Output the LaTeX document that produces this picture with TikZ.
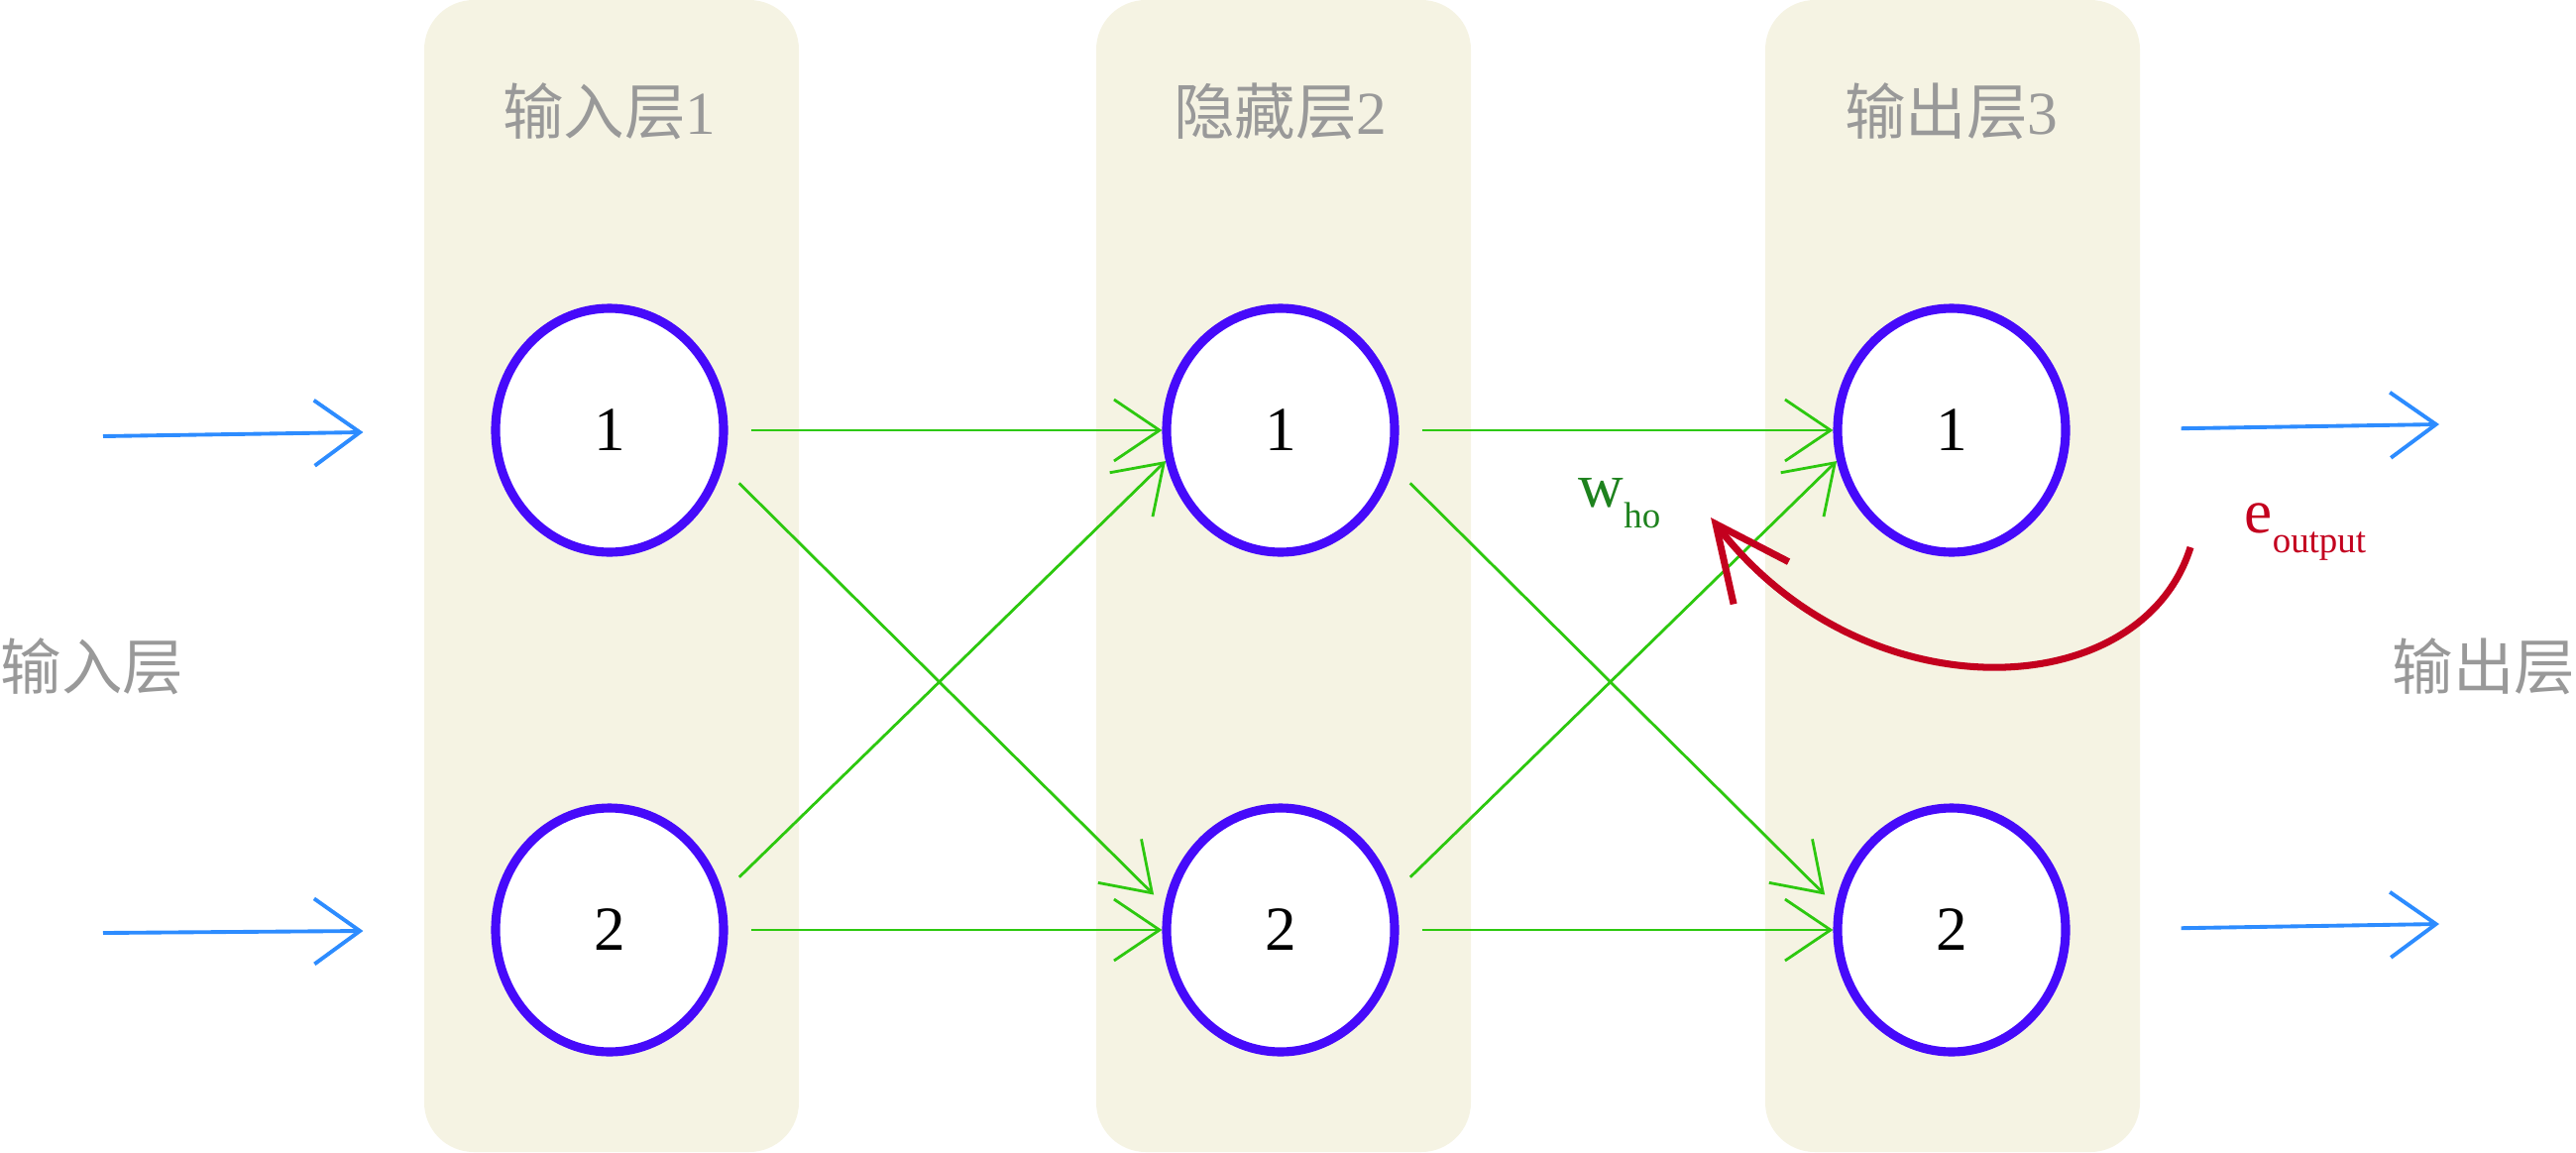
\documentclass[tikz,border=0pt]{standalone}
\usepackage{fontspec}
\setmainfont{Liberation Serif}
\newfontfamily\cjk{Noto Sans CJK SC}
\usepackage{xcolor}
\usetikzlibrary{arrows.meta,positioning,shapes.geometric}

\definecolor{layerbg}{RGB}{245,243,227}
\definecolor{labelgray}{RGB}{153,153,153}
\definecolor{neuronblue}{RGB}{70,10,250}
\definecolor{signalblue}{RGB}{45,140,255}
\definecolor{weightgreen}{RGB}{45,200,15}
\definecolor{wgreen}{RGB}{30,130,30}
\definecolor{errred}{RGB}{195,0,30}

\begin{document}
\begin{tikzpicture}[
  layer/.style={fill=layerbg, rounded corners=0.5cm, minimum width=3.78cm, minimum height=11.62cm, inner sep=0pt},
  neuron/.style={draw=neuronblue, ellipse, fill=white, line width=2.6pt, minimum width=2.3cm, minimum height=2.46cm, inner sep=0pt, font=\fontsize{18}{20}\selectfont},
  title/.style={text=labelgray, font=\fontsize{17.5}{20}\selectfont, inner sep=0pt},
  signal/.style={-{Straight Barb[length=4.6mm,width=6.6mm]}, signalblue, line width=1.1pt},
  weight/.style={-{Straight Barb[length=4.6mm,width=6.2mm]}, weightgreen, line width=0.8pt, shorten <=0.23cm},
  backprop/.style={-{Straight Barb[length=7.5mm,width=7mm]}, errred, line width=2pt},
  node distance=5.04cm and 6.77cm, on grid
]
  \useasboundingbox (0,0) rectangle (25.99,11.62);

  % Layer bands
  \node[layer] (band1) at (6.17,5.81) {};
  \node[layer] (band2) at (12.95,5.81) {};
  \node[layer] (band3) at (19.70,5.81) {};

  % Neurons
  \node[neuron] (i1) at (6.15,7.28) {1};
  \node[neuron, below=of i1] (i2) {2};
  \node[neuron, right=of i1] (h1) {1};
  \node[neuron, right=of i2] (h2) {2};
  \node[neuron, right=of h1] (o1) {1};
  \node[neuron, right=of h2] (o2) {2};

  % Layer titles
  \node[title, above=3.22cm of i1] (t1) {{\cjk 输入层}1};
  \node[title, above=3.22cm of h1] (t2) {{\cjk 隐藏层}2};
  \node[title, above=3.22cm of o1] (t3) {{\cjk 输出层}3};
  \node[title, anchor=west] (inlabel) at (0,4.90) {\cjk 输入层};
  \node[title, anchor=east] (outlabel) at (25.99,4.90) {\cjk 输出层};

  % Signals in and out
  \coordinate (x1) at (1.04,7.22);
  \coordinate (x2) at (1.04,2.21);
  \coordinate (y1) at (24.61,7.34);
  \coordinate (y2) at (24.61,2.30);
  \draw[signal, shorten >=1.29cm] (x1) -- (i1.west);
  \draw[signal, shorten >=1.29cm] (x2) -- (i2.west);
  \draw[signal, shorten <=1.12cm] (o1.east) -- (y1);
  \draw[signal, shorten <=1.12cm] (o2.east) -- (y2);

  % Weights
  \draw[weight] (i1.east) -- (h1.west);
  \draw[weight, shorten >=0.15cm] (i1.-18) -- (h2.168);
  \draw[weight] (i2.18) -- (h1.-165);
  \draw[weight] (i2.east) -- (h2.west);
  \draw[weight] (h1.east) -- (o1.west);
  \draw[weight, shorten >=0.15cm] (h1.-18) -- (o2.168);
  \draw[weight] (h2.18) -- (o1.-165);
  \draw[weight] (h2.east) -- (o2.west);

  % Error term
  \node[text=wgreen, font=\fontsize{18}{20}\selectfont, inner sep=0pt, anchor=base west] (who) at (15.92,6.51) {w\raisebox{-0.21cm}{\fontsize{10.5}{12}\selectfont ho}};
  \node[text=errred, font=\fontsize{18}{20}\selectfont, inner sep=0pt, anchor=base west] (eout) at (22.64,6.25) {e\raisebox{-0.2cm}{\fontsize{10.5}{12}\selectfont output}};
  \coordinate (errstart) at (22.10,6.10);
  \coordinate (errtip) at (17.26,6.40);
  \draw[backprop] (errstart) .. controls (21.6,4.5) and (18.8,4.4) .. (errtip);
\end{tikzpicture}
\end{document}
